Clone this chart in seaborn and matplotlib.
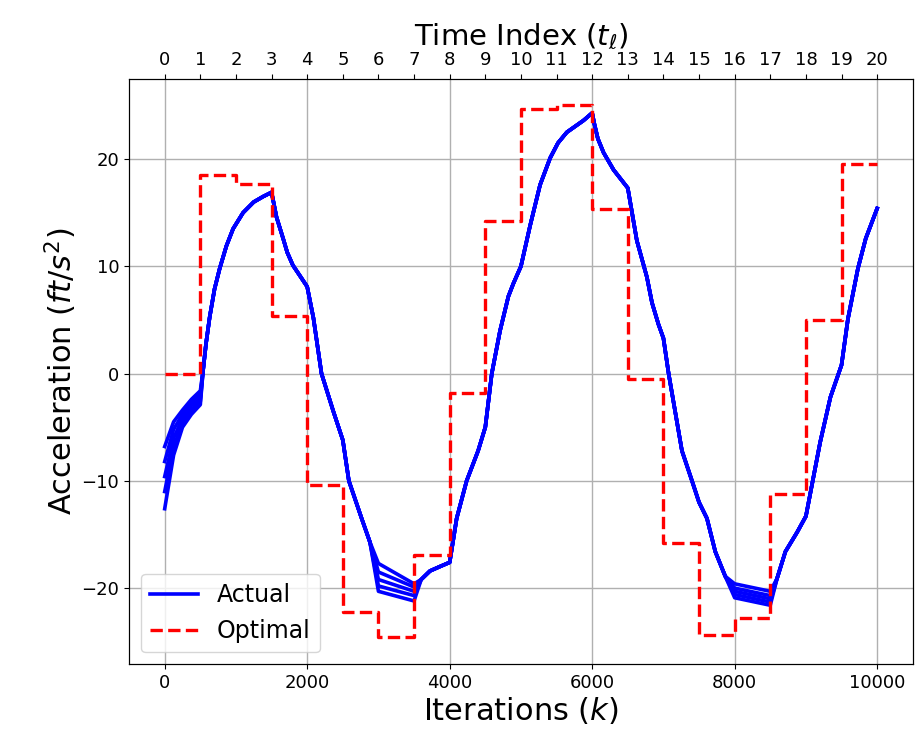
import numpy as np
import pandas as pd
import matplotlib
matplotlib.use("Agg")
import matplotlib.pyplot as plt
import seaborn as sns

# ---------------- data ----------------
# optimal (step) values for each 500-iteration time interval
step_edges = [0, 500, 1000, 1500, 2000, 2500, 3000, 3500, 4000, 4500, 5000,
              5500, 6000, 6500, 7000, 7500, 8000, 8500, 9000, 9500, 10000]
optimal = [0.0, 18.5, 17.7, 5.4, -10.4, -22.2, -24.6, -16.9, -1.8, 14.2,
           24.7, 25.0, 15.3, -0.5, -15.8, -24.4, -22.8, -11.2, 5.0, 19.5]
time_index = list(range(0, 21))

# actual trajectory, part shared by all runs
k_common = [539, 580, 632, 700, 772, 866, 960, 1100, 1250, 1380, 1500, 1569,
            1662, 1720, 1799, 1900, 2000, 2087, 2201, 2366, 2500, 2585, 2764,
            2880,
            3600, 3724, 3860, 4000, 4098, 4238, 4399, 4500, 4591, 4707, 4824,
            4894, 5000, 5129, 5269, 5410, 5520, 5644, 5878, 6000, 6030, 6080,
            6160, 6300, 6500, 6627, 6768, 6840, 6930, 7000, 7073, 7260, 7401,
            7500, 7611, 7728, 7868,
            8595, 8712, 8876, 9000, 9200, 9344, 9500, 9590, 9730, 9840, 10000]
a_common = [0.3, 2.8, 5.3, 7.9, 9.8, 11.9, 13.5, 15.0, 16.0, 16.5, 16.9, 14.6,
            12.6, 11.3, 10.1, 9.1, 8.1, 5.2, 0.0, -3.5, -6.2, -10.0, -13.5,
            -15.7,
            -19.2, -18.4, -18.0, -17.6, -13.5, -10.0, -7.2, -5.0, 0.0, 4.0, 7.2,
            8.4, 10.0, 13.8, 17.6, 20.1, 21.5, 22.5, 23.6, 24.3, 23.3, 21.9,
            20.6, 19.0, 17.3, 12.4, 9.0, 6.6, 4.6, 3.3, 0.0, -7.2, -10.0,
            -12.0, -13.5, -16.6, -18.9,
            -19.1, -16.6, -14.8, -13.3, -6.4, -2.2, 0.8, 5.1, 9.8, 12.6, 15.4]

# where the runs differ from each other
k_spread = [0, 125, 250, 375, 500, 3000, 3500, 8000, 8500]
run_1 = [-6.8, -4.5, -3.4, -2.4, -1.6, -17.7, -19.6, -19.6, -20.3]
run_2 = [-8.2, -5.2, -3.8, -2.7, -1.9, -18.5, -19.9, -20.0, -20.7]
run_3 = [-9.6, -6.0, -4.2, -3.0, -2.3, -19.2, -20.3, -20.3, -21.0]
run_4 = [-11.0, -6.8, -4.6, -3.4, -2.6, -19.8, -20.7, -20.6, -21.3]
run_5 = [-12.6, -7.6, -5.0, -3.8, -2.9, -20.3, -21.2, -20.9, -21.6]
runs = [run_1, run_2, run_3, run_4, run_5]

# ---------------- tables ----------------
frames = []
for i, r in enumerate(runs):
    frames.append(pd.DataFrame({"k": k_common + k_spread,
                                "acc": a_common + r,
                                "run": i}))
df_actual = pd.concat(frames, ignore_index=True)
df_opt = pd.DataFrame({"k": step_edges, "acc": optimal + [optimal[-1]]})

# ---------------- plot ----------------
fig = plt.figure(figsize=(9.22, 7.37), dpi=100)
ax = fig.add_axes([0.140, 0.099, 0.850, 0.794])

sns.lineplot(data=df_actual, x="k", y="acc", units="run", estimator=None,
             color="blue", lw=2.6, ax=ax, legend=False)
sns.lineplot(data=df_opt, x="k", y="acc", estimator=None, color="red",
             lw=2.4, ls="--", drawstyle="steps-post", ax=ax, legend=False)

ax.grid(True, color="#b0b0b0", lw=1.0)
ax.set_axisbelow(True)
ax.set_xlabel("Iterations ($k$)", fontsize=22, labelpad=2)
ax.set_ylabel("Acceleration ($ft/s^2$)", fontsize=22, labelpad=2)
ax.set_xticks([0, 2000, 4000, 6000, 8000, 10000])
ax.set_yticks([-20, -10, 0, 10, 20])
ax.tick_params(labelsize=13)
ax.set_xlim(-500, 10500)

ax2 = ax.twiny()
ax2.set_xlim(ax.get_xlim())
ax2.set_xticks(step_edges)
ax2.set_xticklabels([str(t) for t in time_index])
ax2.tick_params(labelsize=13)
ax2.set_xlabel("Time Index ($t_\\ell$)", fontsize=21, labelpad=4)

blue_line = ax.lines[0]
red_line = ax.lines[-1]
ax.legend([blue_line, red_line], ["Actual", "Optimal"], loc="lower left",
          fontsize=17)

fig.savefig("out.png", dpi=100)
